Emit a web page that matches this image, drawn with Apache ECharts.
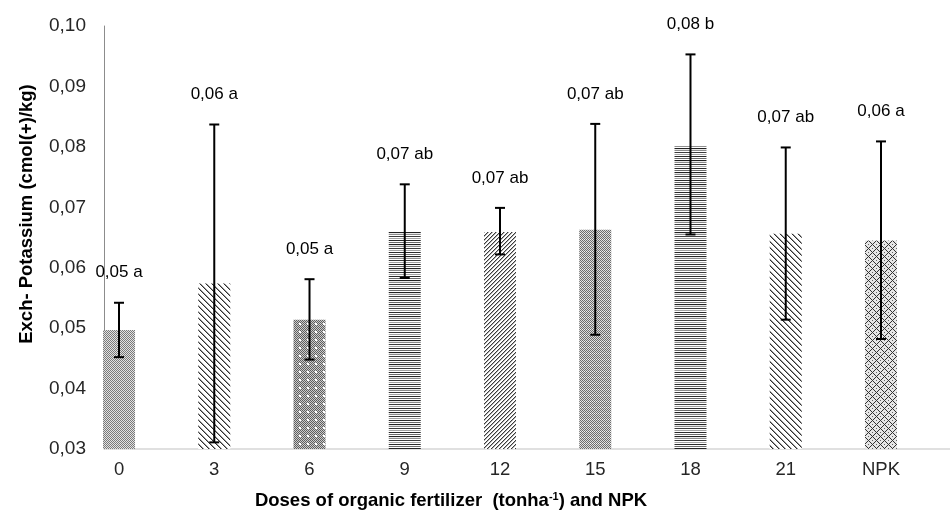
<!DOCTYPE html>
<html>
<head>
<meta charset="utf-8">
<script src="https://cdn.jsdelivr.net/npm/echarts@6/dist/echarts.min.js"></script>
<style>
  html, body { margin: 0; padding: 0; background: #fff; }
  #main { width: 950px; height: 514px; }
</style>
</head>
<body>
<div id="main"></div>
<script>
// doses (t/ha) + NPK
var categories = ['0', '3', '6', '9', '12', '15', '18', '21', 'NPK'];
var means = [0.0497, 0.0574, 0.0514, 0.0660, 0.0659, 0.0663, 0.0801, 0.0656, 0.0645];
var lows  = [0.0452, 0.0311, 0.0448, 0.0583, 0.0622, 0.0489, 0.0655, 0.0514, 0.0482];
var highs = [0.0542, 0.0837, 0.0581, 0.0738, 0.0699, 0.0838, 0.0953, 0.0799, 0.0809];
var letters = ['0,05 a', '0,06 a', '0,05 a', '0,07 ab', '0,07 ab', '0,07 ab', '0,08 b', '0,07 ab', '0,06 a'];
var yMin = 0.03, yMax = 0.10, yStep = 0.01;

// fill pattern for each bar, in category order
var fills = ['fine', 'ddiag', 'confetti', 'hlines', 'udiag', 'dense', 'hlines', 'ddiag', 'diamond'];

var FONT = 'Liberation Sans, Arial, sans-serif';

function makePattern(kind) {
    var c = document.createElement('canvas');
    var ctx = c.getContext('2d');
    function px(x, y, col) { ctx.fillStyle = col; ctx.fillRect(x, y, 1, 1); }
    var i, j;
    if (kind === 'fine') {
        c.width = 4; c.height = 4;
        for (i = 0; i < 4; i++) for (j = 0; j < 4; j++)
            px(i, j, (i + j) % 2 ? '#e2e2e2' : '#7a7a7a');
    } else if (kind === 'confetti') {
        c.width = 8; c.height = 8;
        for (i = 0; i < 8; i++) for (j = 0; j < 8; j++)
            px(i, j, (i + j) % 2 ? '#cccccc' : '#5e5e5e');
        px(3, 3, '#fff'); px(4, 3, '#fff'); px(3, 4, '#fff'); px(4, 4, '#fff');
    } else if (kind === 'dense') {
        c.width = 4; c.height = 6;
        for (i = 0; i < 4; i++) for (j = 0; j < 6; j++)
            px(i, j, (i + j) % 2 ? (j === 5 ? '#f4f4f4' : '#dcdcdc') : '#6c6c6c');
    } else if (kind === 'hlines') {
        var rows = ['#2a2a2a', '#fff', '#6a6a6a', '#fff', '#222', '#e8e8e8', '#8a8a8a', '#fff', '#3c3c3c', '#fff', '#a0a0a0', '#fff'];
        c.width = 2; c.height = rows.length;
        for (j = 0; j < rows.length; j++) { ctx.fillStyle = rows[j]; ctx.fillRect(0, j, 2, 1); }
    } else if (kind === 'ddiag') {
        c.width = 6; c.height = 6;
        ctx.fillStyle = '#fff'; ctx.fillRect(0, 0, 6, 6);
        for (i = 0; i < 6; i++) { px(i, i, '#2e2e2e'); px((i + 1) % 6, i, '#9a9a9a'); }
    } else if (kind === 'udiag') {
        c.width = 4; c.height = 4;
        ctx.fillStyle = '#fff'; ctx.fillRect(0, 0, 4, 4);
        for (i = 0; i < 4; i++) { px(i, 3 - i, '#3a3a3a'); px((i + 1) % 4, 3 - i, '#b0b0b0'); }
    } else { // diamond
        c.width = 8; c.height = 8;
        ctx.fillStyle = '#e6e6e6'; ctx.fillRect(0, 0, 8, 8);
        var pts = [[4,0],[5,1],[6,2],[7,3],[0,4],[7,5],[6,6],[5,7],[3,7],[2,6],[1,5],[1,3],[2,2],[3,1]];
        pts.forEach(function (p) { px(p[0], p[1], '#333'); });
        px(4, 4, '#666'); px(0, 0, '#666');
    }
    return { image: c, repeat: 'repeat' };
}

var barData = means.map(function (v, i) {
    return { value: v, itemStyle: { color: makePattern(fills[i]) } };
});
var errData = categories.map(function (c, i) {
    return [i, lows[i], highs[i]];
});

function renderErr(params, api) {
    var lo = api.coord([api.value(0), api.value(1)]);
    var hi = api.coord([api.value(0), api.value(2)]);
    var cap = 5;
    var st = { stroke: '#000', lineWidth: 2 };
    return {
        type: 'group',
        children: [
            { type: 'line', shape: { x1: hi[0], y1: hi[1], x2: lo[0], y2: lo[1] }, style: st },
            { type: 'line', shape: { x1: hi[0] - cap, y1: hi[1], x2: hi[0] + cap, y2: hi[1] }, style: st },
            { type: 'line', shape: { x1: lo[0] - cap, y1: lo[1], x2: lo[0] + cap, y2: lo[1] }, style: st },
            {
                type: 'text',
                style: {
                    x: hi[0], y: hi[1] - 30, text: letters[params.dataIndex],
                    align: 'center', verticalAlign: 'middle',
                    font: '17px ' + FONT, fill: '#000'
                }
            }
        ]
    };
}

var chart = echarts.init(document.getElementById('main'));
chart.setOption({
    animation: false,
    backgroundColor: '#fff',
    grid: [
        { left: 71.4, right: 21.4, top: 26, bottom: 65 },
        { left: 104, right: 0, top: 26, bottom: 65 }
    ],
    xAxis: [
        {
            type: 'category', gridIndex: 0, data: categories,
            axisLine: { show: false }, axisTick: { show: false },
            axisLabel: { fontSize: 18.5, fontFamily: FONT, color: '#262626', margin: 11 }
        },
        {
            type: 'value', gridIndex: 1, min: 0, max: 1,
            axisLine: { show: true, lineStyle: { color: '#d6d6d6', width: 1.5 } },
            axisTick: { show: false }, axisLabel: { show: false }, splitLine: { show: false }
        }
    ],
    yAxis: [
        {
            type: 'value', gridIndex: 0, min: yMin, max: yMax, interval: yStep, show: false
        },
        {
            type: 'value', gridIndex: 1, min: yMin, max: yMax, interval: yStep,
            axisLine: { show: true, lineStyle: { color: '#8c8c8c', width: 1 } },
            axisTick: { show: false }, splitLine: { show: false },
            axisLabel: {
                fontSize: 19, fontFamily: FONT, color: '#262626', margin: 18,
                formatter: function (v) { return v.toFixed(2).replace('.', ','); }
            }
        }
    ],
    graphic: [
        {
            type: 'text', x: 27, y: 214, rotation: Math.PI / 2,
            style: {
                text: 'Exch- Potassium (cmol(+)/kg)', align: 'center', verticalAlign: 'middle',
                font: 'bold 18.5px ' + FONT, fill: '#000'
            }
        },
        {
            type: 'text', x: 451, y: 501,
            style: {
                text: '{b|Doses of organic fertilizer  (tonha}{s|-1}{b|) and NPK}',
                align: 'center', verticalAlign: 'middle',
                rich: {
                    b: { font: 'bold 18.5px ' + FONT, fill: '#000' },
                    s: { font: 'bold 11px ' + FONT, fill: '#000', padding: [0, 0, 9, 0] }
                }
            }
        }
    ],
    series: [
        {
            type: 'bar', xAxisIndex: 0, yAxisIndex: 0, barWidth: 32,
            data: barData
        },
        {
            type: 'custom', xAxisIndex: 0, yAxisIndex: 0,
            renderItem: renderErr, data: errData, z: 5
        }
    ]
});
</script>
</body>
</html>
